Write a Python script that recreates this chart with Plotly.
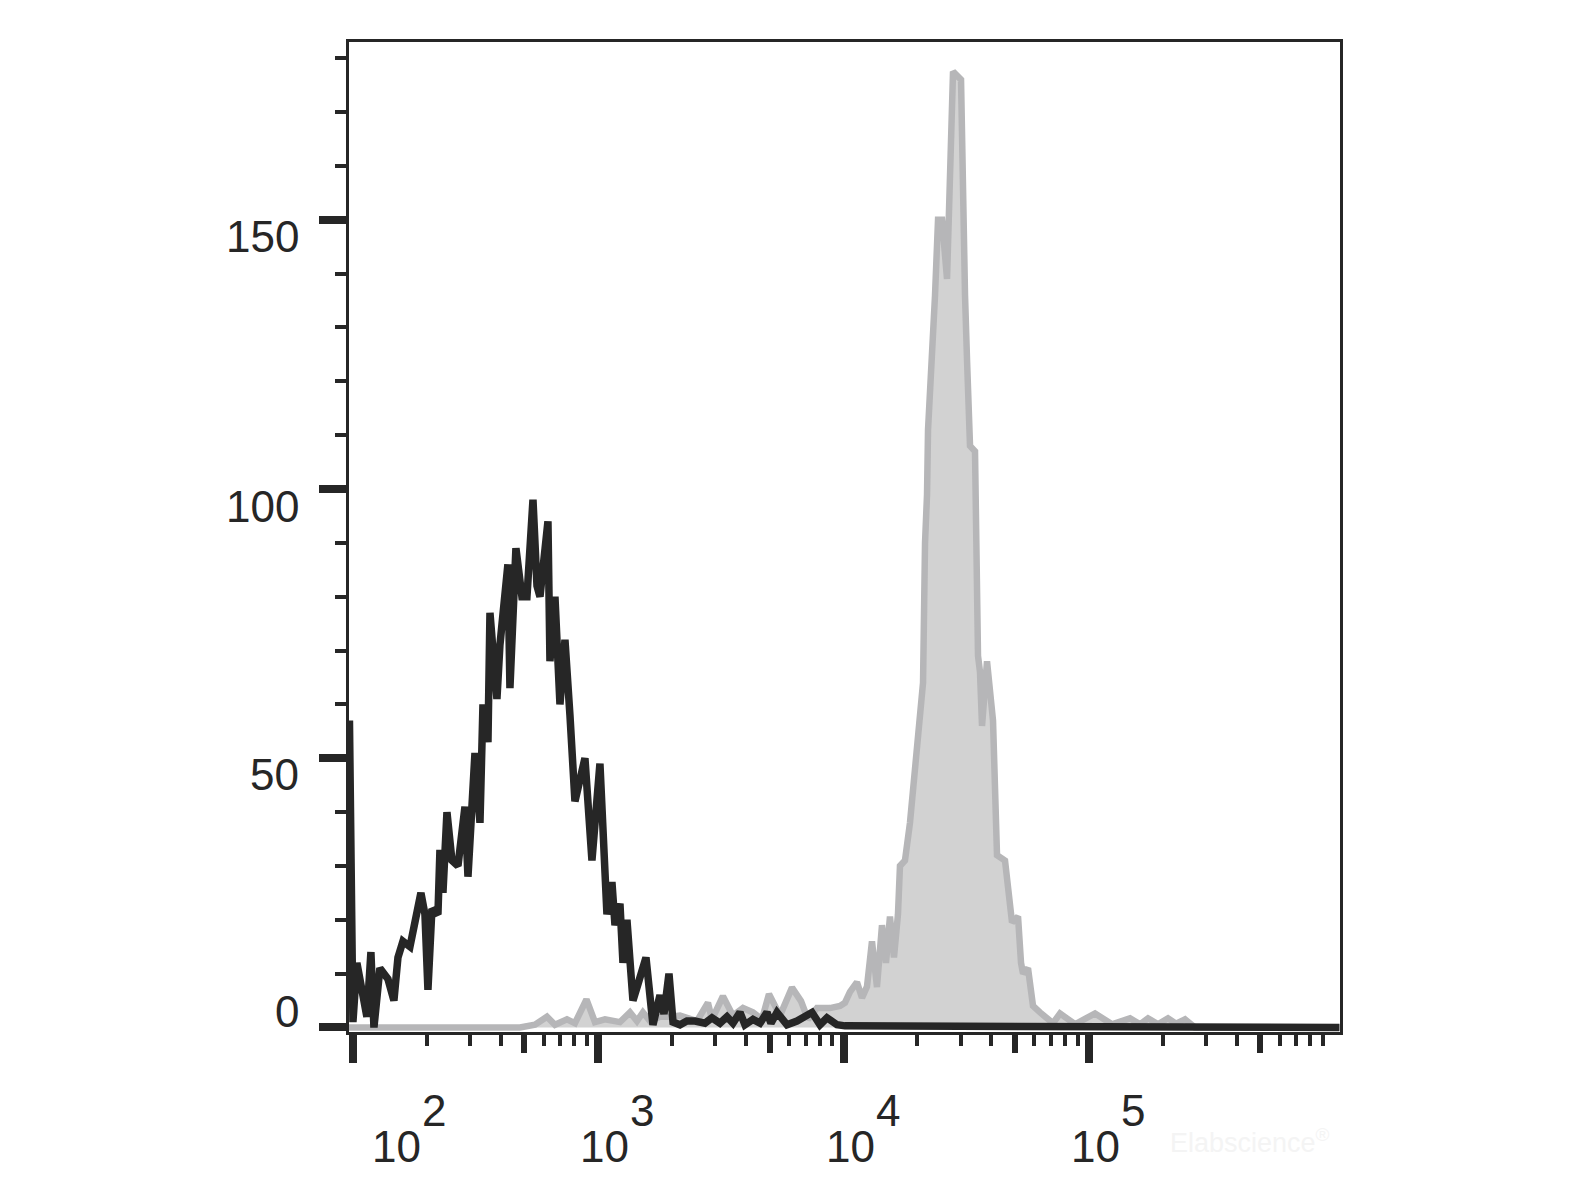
import math
import plotly.graph_objects as go

# ---- data ----
# black open histogram (control): fluorescence intensity and event counts
ctrl_x = [96.8, 100, 103.8, 108.8, 114.0, 118.4, 121.8, 128.8, 138.9, 146.9, 152.6, 159.9,
          170.8, 189.3, 196.6, 202.2, 209.9, 222.1, 226.3, 232.8, 241.7, 253.3, 268.0,
          286.2, 294.4, 314.4, 329.5, 338.9, 355.2, 361.9, 386.4, 397.4, 428.3, 436.5,
          461.8, 488.6, 512.1, 541.9, 562.7, 578.8, 623.7, 635.5, 666.0, 698.1, 731.6,
          766.7, 803.5, 882.6, 942.6, 1016, 1085, 1137, 1170, 1226, 1261, 1309, 1385,
          1451, 1565, 1671, 1785, 1853, 1942, 2017, 2153, 2299, 2479, 2722, 2908, 3134,
          3347, 3541, 3782, 3963, 4272, 4563, 4872, 5058, 5352, 5880, 6457, 7432, 8012,
          8556, 9398, 10132, 1050000]
ctrl_y = [57, 1, 12, 7.6, 2, 14, 0, 11, 9, 5, 13, 16,
          15, 25, 21, 7, 22, 21, 33, 25, 40, 31, 30,
          41, 28, 51, 38, 60, 53, 77, 61, 71, 86, 63,
          89, 80, 80, 98, 82, 80, 94, 68, 80, 60, 72,
          58, 42, 50, 31, 49, 21, 27, 19, 23, 12, 20, 5,
          8, 13, 0.5, 6, 2.5, 10, 1, 0.5, 1.2, 1.2, 0.8, 1.8, 0.8,
          2.0, 0.8, 2.8, 0.5, 1.5, 0.8, 2.8, 0.8, 2.8, 0.5, 1.2, 2.8, 0.5,
          1.8, 0.5, 0.3, 0]

# grey filled histogram (stained sample)
stain_x = [96.3, 479.5, 552.2, 617.9, 666, 745.5, 803.5, 895.1, 969.5, 1065, 1226, 1347,
           1438, 1521, 1625, 1785, 1960, 2153, 2526, 2800, 2908, 3223, 3541, 3890, 4272,
           4649, 4964, 5506, 6162, 6706, 7159, 7790, 8800, 9668, 10132, 10619, 11340,
           11885, 12456, 13054, 13681, 14340, 14888, 15456, 16047, 16661, 16977, 17793,
           18648, 19924, 21079, 21479, 21886, 22092, 22937, 23592, 24266, 25193, 26404,
           27931, 30112, 30395, 30681, 31262, 31855, 32764, 34335, 35315, 35984, 36666,
           38429, 40654, 42210, 45503, 48593, 51409, 52876, 53878, 56466, 59179, 63201,
           67483, 71400, 76244, 87770, 105900, 124200, 147100, 161600, 174200, 191300,
           210100, 226500, 246500, 270700, 1050000]
stain_y = [0, 0, 0.5, 2, 0.5, 1.5, 0.8, 5.2, 1, 1.5, 1, 2.8,
           1.2, 2.8, 1.2, 2, 2, 2.2, 1.2, 4.6, 1.5, 5.8, 2.2, 3.6, 2.8,
           1.5, 6.2, 2.2, 7.4, 4.9, 1.5, 3.6, 3.6, 4, 4.6, 6.6, 8.4,
           5.5, 7.6, 16, 7.5, 19, 12, 20.6, 13, 21, 30, 31,
           38, 53, 64, 90, 99, 111, 124, 136, 150, 150, 139,
           177.5, 176, 161, 149, 136, 124, 108, 107, 69, 66, 56,
           68, 57, 32, 31, 19.5, 20.6, 12, 10, 11, 4, 2.8,
           1.5, 0.8, 2.6, 0.6, 2.6, 0.6, 1.7, 0.6, 1.7, 0.6,
           1.7, 0.7, 1.5, 0, 0]

x_major = [100, 1000, 10000, 100000]
x_exponents = ["2", "3", "4", "5"]
x_medium = [500, 5000, 50000, 500000]
x_minor = [m * 10 ** k for k in range(2, 6) for m in (2, 3, 4, 6, 7, 8, 9)]
y_major = [0, 50, 100, 150]
y_labels = ["0", "50", "100", "150"]

# ---- styles ----
INK = "#262626"
FONT = "Liberation Sans, Arial, sans-serif"
BODY = 8  # default page margin around the plot div
W, H = 1576 - BODY, 1182 - BODY
X_RANGE = [1.984, 6.0235]
Y_RANGE = [-0.84, 183.0]

fig = go.Figure()
fig.add_trace(go.Scatter(
    x=stain_x, y=stain_y, mode="lines", fill="tozeroy",
    fillcolor="#d2d2d2", line=dict(color="#b6b6b8", width=6.5),
    hoverinfo="skip", showlegend=False))
fig.add_trace(go.Scatter(
    x=ctrl_x, y=ctrl_y, mode="lines",
    line=dict(color=INK, width=7.5),
    hoverinfo="skip", showlegend=False))
# invisible trace to carry the medium-tick overlay axis
fig.add_trace(go.Scatter(x=[x_medium[0]], y=[0], xaxis="x2", mode="markers",
                         marker=dict(opacity=0), hoverinfo="skip", showlegend=False))

fig.update_layout(
    width=W, height=H,
    margin=dict(l=349 - BODY, r=236, t=42 - BODY, b=150, pad=0),
    paper_bgcolor="white", plot_bgcolor="white",
    font=dict(family=FONT, color=INK, size=44),
    xaxis=dict(type="log", range=X_RANGE, tickmode="array", tickvals=x_major,
               showticklabels=False, ticks="outside", ticklen=28, tickwidth=8,
               tickcolor=INK, showline=True, linewidth=3, linecolor=INK,
               mirror=True, showgrid=False, zeroline=False,
               minor=dict(tickmode="array", tickvals=x_minor, ticks="outside",
                          ticklen=11, tickwidth=4, tickcolor=INK, showgrid=False)),
    xaxis2=dict(type="log", range=X_RANGE, overlaying="x", anchor="y", side="bottom",
                tickmode="array", tickvals=x_medium, showticklabels=False,
                ticks="outside", ticklen=20, tickwidth=6, tickcolor=INK,
                showline=False, showgrid=False, zeroline=False),
    yaxis=dict(range=Y_RANGE, tickmode="array", tickvals=y_major,
               showticklabels=False, ticks="outside", ticklen=27, tickwidth=8,
               tickcolor=INK, showline=True, linewidth=3, linecolor=INK,
               mirror=True, showgrid=False, zeroline=False,
               minor=dict(tick0=0, dtick=10, ticks="outside", ticklen=11,
                          tickwidth=3.5, tickcolor=INK, showgrid=False)),
)

# y tick labels
y_shift = {0: 16, 50: -16, 100: -18, 150: -17}
for v, t in zip(y_major, y_labels):
    fig.add_annotation(x=0, xref="paper", y=v, yref="y", text=t, showarrow=False,
                       xanchor="right", yanchor="middle", xshift=-48, yshift=y_shift[v],
                       font=dict(family=FONT, size=44, color=INK))

# x tick labels: "10" with a raised exponent of the same size
for v, e in zip(x_major, x_exponents):
    lx = math.log10(v)
    base_shift = 17 if v == 100 else -20
    fig.add_annotation(x=lx, xref="x", y=0, yref="paper", text="10", showarrow=False,
                       xanchor="left", yanchor="middle", xshift=base_shift, yshift=-114,
                       font=dict(family=FONT, size=44, color=INK))
    fig.add_annotation(x=lx, xref="x", y=0, yref="paper", text=e, showarrow=False,
                       xanchor="left", yanchor="middle", xshift=base_shift + 50, yshift=-78,
                       font=dict(family=FONT, size=44, color=INK))

# faint watermark
fig.add_annotation(x=1, xref="paper", y=0, yref="paper", text="Elabscience<sup>®</sup>",
                   showarrow=False, xanchor="right", yanchor="middle", xshift=-8, yshift=-109,
                   font=dict(family=FONT, size=27, color="#f4f4f4"))

fig.write_html("out.html")
